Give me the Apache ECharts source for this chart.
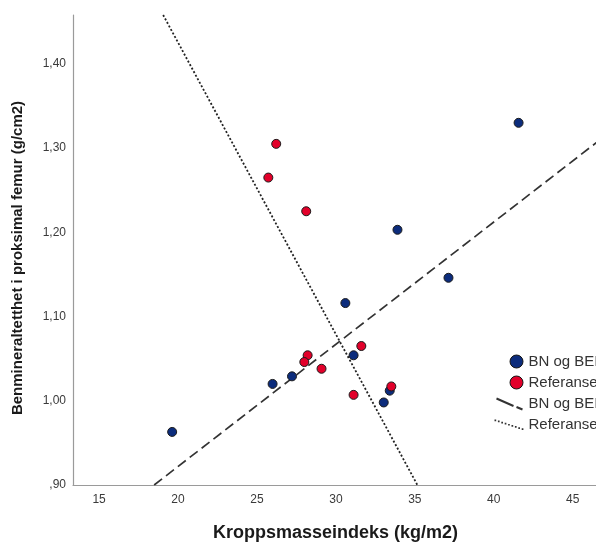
<!DOCTYPE html>
<html>
<head>
<meta charset="utf-8">
<title>Kroppsmasseindeks og benmineraltetthet</title>
<script src="https://cdn.jsdelivr.net/npm/echarts@6/dist/echarts.min.js"></script>
<style>
  html, body { margin: 0; padding: 0; overflow: hidden; background: #fff; }
  #chart { width: 640px; height: 547px; }
</style>
</head>
<body>
<div id="chart"></div>
<script>
/* -------------------------------------------------------------------------- */
/* Data: [BMI, BMD] */
var bnPoints = [
  [19.63, 0.963], [25.99, 1.020], [27.22, 1.029], [30.60, 1.116], [31.12, 1.054],
  [33.03, 0.998], [33.41, 1.012], [37.13, 1.146], [41.57, 1.330], [33.90, 1.203]
];
var refPoints = [
  [26.22, 1.305], [25.72, 1.265], [28.12, 1.225], [28.21, 1.054], [28.00, 1.046],
  [29.09, 1.038], [31.61, 1.065], [31.12, 1.007], [33.51, 1.017]
];
// fit lines, end points as drawn
var bnFit = [[18.49, 0.90], [46.6, 1.308]];
var refFit = [[19.06, 1.458], [35.16, 0.90]];

var xTicks = [15, 20, 25, 30, 35, 40, 45];
var yTicks = [0.9, 1.0, 1.1, 1.2, 1.3, 1.4];

var legendNames = {
  bn: 'BN og BEI',
  ref: 'Referanser',
  bnFit: 'BN og BEI',
  refFit: 'Referanser'
};
/* -------------------------------------------------------------------------- */

var FONT = '"Liberation Sans", Arial, sans-serif';
var BLUE = '#0c2c7c';
var RED = '#e2002a';

// icon paths for the legend, all in a 30x14 box
var circleIcon = 'path://M0,0 M30,14 M16.5,7 A6.5,6.5 0 1 1 29.5,7 A6.5,6.5 0 1 1 16.5,7 Z';
var dashIcon = 'path://M0,0 M30,14 M3.4,1.1 L20.4,8.6 L19.6,10.4 L2.6,2.9 Z M23.4,9.6 L29.4,12.1 L28.6,13.9 L22.6,11.4 Z';
var dotIcon = (function () {
  var p = 'path://M0,0 M30,14';
  for (var i = 0; i < 9; i++) {
    var x = 1 + i * 3.4;
    var y = 2 + i * 1.1;
    p += ' M' + x + ',' + y + ' h1.7 v1.7 h-1.7 Z';
  }
  return p;
})();

var chart = echarts.init(document.getElementById('chart'), null, { renderer: 'canvas' });

var option = {
  animation: false,
  grid: { left: 73, top: 15, width: 525, height: 472 },
  xAxis: {
    type: 'value',
    min: 13.35,
    max: 46.6,
    name: 'Kroppsmasseindeks (kg/m2)',
    nameLocation: 'middle',
    nameGap: 39,
    nameTextStyle: { fontFamily: FONT, fontSize: 18, fontWeight: 'bold', color: '#1a1a1a' },
    axisLine: { onZero: false, lineStyle: { color: '#9a9a9a', width: 1.2 } },
    axisTick: { show: false },
    splitLine: { show: false },
    axisLabel: {
      customValues: xTicks,
      margin: 9,
      fontFamily: FONT,
      fontSize: 12,
      color: '#3a3a3a'
    }
  },
  yAxis: {
    type: 'value',
    min: 0.9,
    max: 1.458,
    name: 'Benmineraltetthet i proksimal femur (g/cm2)',
    nameLocation: 'middle',
    nameGap: 48,
    nameTextStyle: {
      fontFamily: FONT,
      fontSize: 15,
      fontWeight: 'bold',
      color: '#1a1a1a',
      padding: [0, 16, 0, 0]
    },
    axisLine: { onZero: false, lineStyle: { color: '#9a9a9a', width: 1.2 } },
    axisTick: { show: false },
    splitLine: { show: false },
    axisLabel: {
      customValues: yTicks,
      margin: 7,
      fontFamily: FONT,
      fontSize: 12,
      color: '#3a3a3a',
      formatter: function (value) {
        var s = value.toFixed(2).replace('.', ',');
        return s.charAt(0) === '0' ? s.slice(1) : s;
      }
    }
  },
  legend: {
    orient: 'vertical',
    left: 493,
    top: 354,
    padding: 0,
    itemWidth: 30,
    itemHeight: 14,
    itemGap: 6,
    selectedMode: false,
    textStyle: { fontFamily: FONT, fontSize: 15, color: '#333' },
    formatter: function (name) { return legendNames[name]; },
    data: [
      { name: 'bn', icon: circleIcon, itemStyle: { color: BLUE, borderColor: '#111', borderWidth: 1 } },
      { name: 'ref', icon: circleIcon, itemStyle: { color: RED, borderColor: '#111', borderWidth: 1 } },
      { name: 'bnFit', icon: dashIcon, itemStyle: { color: '#333', borderWidth: 0 } },
      { name: 'refFit', icon: dotIcon, itemStyle: { color: '#333', borderWidth: 0 } }
    ]
  },
  series: [
    {
      name: 'bnFit',
      type: 'line',
      data: bnFit,
      symbol: 'none',
      silent: true,
      color: '#333',
      lineStyle: { color: '#333', width: 1.7, type: [10, 5] }
    },
    {
      name: 'refFit',
      type: 'line',
      data: refFit,
      symbol: 'none',
      silent: true,
      color: '#333',
      lineStyle: { color: '#222', width: 1.8, type: [2, 2] }
    },
    {
      name: 'bn',
      type: 'scatter',
      data: bnPoints,
      symbolSize: 9,
      z: 3,
      itemStyle: { color: BLUE, borderColor: '#1a1a1a', borderWidth: 1, opacity: 1 }
    },
    {
      name: 'ref',
      type: 'scatter',
      data: refPoints,
      symbolSize: 9,
      z: 3,
      itemStyle: { color: RED, borderColor: '#1a1a1a', borderWidth: 1, opacity: 1 }
    }
  ]
};

chart.setOption(option);
</script>
</body>
</html>
